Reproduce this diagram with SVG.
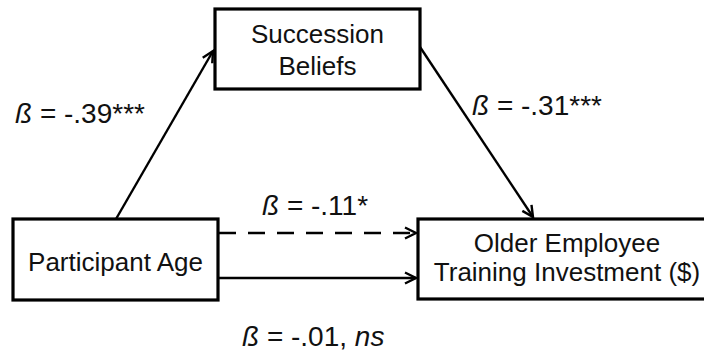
<svg xmlns="http://www.w3.org/2000/svg" width="704" height="353" viewBox="0 0 704 353">
<style>
.box{fill:#fff;stroke:#000;stroke-width:3.2}
.t{font-family:"Liberation Sans",Arial,sans-serif;font-size:26px;fill:#111;text-anchor:middle}
.lab{font-family:"Liberation Sans",Arial,sans-serif;font-size:28px;fill:#111}
.conn{stroke:#000;stroke-width:2.4;fill:none}
</style>
<defs>
<marker id="arr" markerUnits="userSpaceOnUse" markerWidth="16" markerHeight="16" refX="12" refY="7" orient="auto">
<path d="M1,1.5 L12,7 L1,12.5" fill="none" stroke="#000" stroke-width="2.4"/>
</marker>
</defs>
<rect width="704" height="353" fill="#fff"/>
<g id="connectors">
<line class="conn" x1="116" y1="219" x2="213" y2="51" marker-end="url(#arr)"/>
<line class="conn" x1="420" y1="47" x2="533" y2="217" marker-end="url(#arr)"/>
<line class="conn" x1="219" y1="233" x2="416" y2="233" stroke-dasharray="17,12" marker-end="url(#arr)"/>
<line class="conn" x1="219" y1="278" x2="416" y2="278" marker-end="url(#arr)"/>
</g>
<g id="succession">
<rect class="box" x="215" y="9" width="205" height="80"/>
<text class="t" x="317.5" y="43">Succession</text>
<text class="t" x="317.5" y="75">Beliefs</text>
</g>
<g id="participant">
<rect class="box" x="13" y="219" width="205" height="81"/>
<text class="t" x="115.5" y="271">Participant Age</text>
</g>
<g id="older">
<rect class="box" x="418" y="219" width="300" height="80"/>
<text class="t" x="567" y="252">Older Employee</text>
<text class="t" x="567" y="281">Training Investment ($)</text>
</g>
<g id="labels">
<text class="lab" x="15" y="123"><tspan font-style="italic">ß</tspan> = -.39***</text>
<text class="lab" x="472" y="115"><tspan font-style="italic">ß</tspan> = -.31***</text>
<text class="lab" x="262" y="215"><tspan font-style="italic">ß</tspan> = -.11*</text>
<text class="lab" x="242" y="346"><tspan font-style="italic">ß</tspan> = -.01, <tspan font-style="italic">ns</tspan></text>
</g>
</svg>
